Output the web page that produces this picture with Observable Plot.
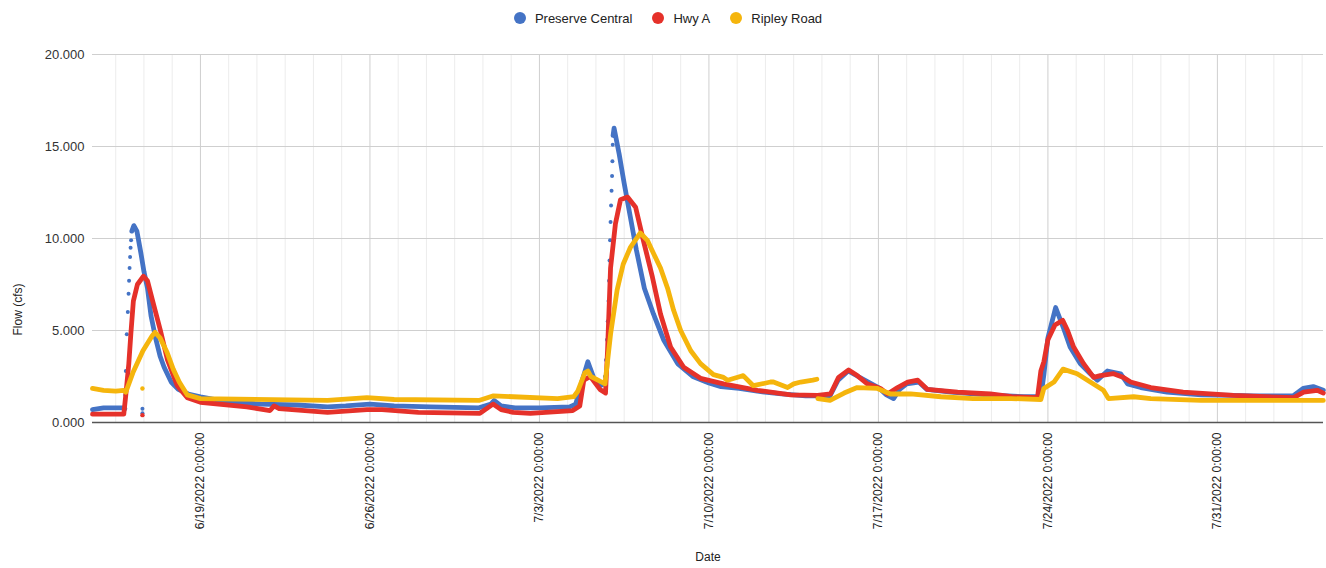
<!DOCTYPE html>
<html>
<head>
<meta charset="utf-8">
<script src="https://cdn.jsdelivr.net/npm/d3@7"></script>
<script src="https://cdn.jsdelivr.net/npm/@observablehq/plot@0.6"></script>
<style>
  body { margin: 0; background: #fff; font-family: "Liberation Sans", Arial, sans-serif; }
  #legend { height: 36px; display: flex; justify-content: center; align-items: center; font-size: 13px; color: #222; padding-left: 10px; box-sizing: border-box; }
  #legend .item { display: inline-flex; align-items: center; margin: 0 10px; }
  #legend .sw { width: 12px; height: 12px; border-radius: 50%; display: inline-block; margin-right: 9px; }
  #chart svg { display: block; }
</style>
</head>
<body>
<div id="legend"></div>
<div id="chart"></div>
<script>
// ---------- data (times are 2022 "MM-DD HH:MM", flow values as shown on the axis) ----------
const seriesNames = ["Preserve Central", "Hwy A", "Ripley Road"];
const seriesColors = ["#4473c5", "#e5312a", "#f5b50c"];

const preserveCentral = [
  ["06-14 13:00", 0.7], ["06-15 00:00", 0.8], ["06-15 19:00", 0.8], ["06-15 21:00", 0.75], ["06-15 21:30", null],
  ["06-16 04:00", 10.4], ["06-16 06:00", 10.7], ["06-16 09:00", 10.4], ["06-16 13:00", 9.2], ["06-16 16:00", 8.2],
  ["06-16 19:30", 7.3], ["06-16 23:00", 5.8], ["06-17 03:30", 4.6], ["06-17 08:00", 3.6], ["06-17 12:00", 3.0],
  ["06-17 19:00", 2.2], ["06-18 02:00", 1.8], ["06-18 12:00", 1.55], ["06-19 00:00", 1.4], ["06-20 00:00", 1.15],
  ["06-21 12:00", 1.0], ["06-23 00:00", 0.95], ["06-24 06:00", 0.85], ["06-25 00:00", 0.9], ["06-26 00:00", 1.0],
  ["06-27 00:00", 0.9], ["06-28 12:00", 0.85], ["06-30 12:00", 0.8], ["07-01 00:00", 1.0], ["07-01 03:00", 1.2],
  ["07-01 10:00", 0.9], ["07-02 00:00", 0.8], ["07-03 00:00", 0.8], ["07-04 06:00", 0.85], ["07-04 12:00", 1.0],
  ["07-04 18:00", 2.2], ["07-05 00:00", 3.3], ["07-05 06:00", 2.4], ["07-05 12:00", 2.0], ["07-05 16:00", 2.1],
  ["07-05 16:30", null],
  ["07-06 01:00", 15.6], ["07-06 02:00", 16.0], ["07-06 07:00", 14.6], ["07-06 12:00", 13.0], ["07-06 18:00", 11.2],
  ["07-07 00:00", 9.4], ["07-07 08:00", 7.3], ["07-07 17:00", 5.9], ["07-08 03:00", 4.5], ["07-08 17:00", 3.2],
  ["07-09 08:00", 2.5], ["07-10 00:00", 2.15], ["07-10 12:00", 1.95], ["07-11 06:00", 1.85], ["07-12 00:00", 1.7],
  ["07-13 00:00", 1.55], ["07-14 00:00", 1.45], ["07-15 00:00", 1.45], ["07-15 08:00", 2.3], ["07-15 18:00", 2.8],
  ["07-16 04:00", 2.5], ["07-16 14:00", 2.2], ["07-17 00:00", 1.9], ["07-17 08:00", 1.5], ["07-17 15:00", 1.3],
  ["07-17 21:00", 1.8], ["07-18 04:00", 2.1], ["07-18 16:00", 2.2], ["07-19 00:00", 1.8], ["07-20 00:00", 1.65],
  ["07-21 12:00", 1.5], ["07-23 00:00", 1.4], ["07-23 17:00", 1.4], ["07-23 20:00", 2.6], ["07-24 00:00", 4.6],
  ["07-24 07:40", 6.25], ["07-24 15:00", 5.2], ["07-24 22:00", 4.1], ["07-25 08:00", 3.2], ["07-25 18:00", 2.65],
  ["07-26 01:00", 2.3], ["07-26 11:00", 2.8], ["07-27 00:00", 2.65], ["07-27 07:00", 2.1], ["07-27 20:00", 1.9],
  ["07-28 22:00", 1.65], ["07-30 08:00", 1.5], ["07-31 16:00", 1.47], ["08-01 12:00", 1.45], ["08-02 12:00", 1.45],
  ["08-03 03:00", 1.45], ["08-03 13:00", 1.85], ["08-03 23:00", 1.95], ["08-04 09:00", 1.75]
];

const preserveCentralRiseDots = [
  ["06-15 21:30", 1.5], ["06-15 22:00", 2.8], ["06-15 23:00", 4.8], ["06-16 00:00", 6.0], ["06-16 00:45", 7.0],
  ["06-16 01:15", 7.7], ["06-16 01:45", 8.4], ["06-16 02:15", 9.0], ["06-16 02:45", 9.5], ["06-16 03:15", 9.9],
  ["06-16 14:30", 0.75], ["06-16 14:30", 0.5],
  ["07-05 17:00", 2.5], ["07-05 18:00", 3.4], ["07-05 19:00", 4.5], ["07-05 19:45", 5.5], ["07-05 20:30", 6.6],
  ["07-05 21:00", 7.7], ["07-05 21:30", 8.8], ["07-05 22:00", 9.9], ["07-05 22:30", 10.9], ["07-05 23:00", 11.8],
  ["07-05 23:30", 12.6], ["07-06 00:00", 13.4], ["07-06 00:20", 14.2], ["07-06 00:40", 15.1]
];

const hwyA = [
  ["06-14 13:00", 0.45], ["06-15 20:00", 0.45], ["06-15 22:00", 1.5], ["06-16 01:00", 3.2], ["06-16 03:00", 4.8],
  ["06-16 05:30", 6.6], ["06-16 09:30", 7.5], ["06-16 15:30", 7.95], ["06-16 19:30", 7.7], ["06-17 00:40", 6.6],
  ["06-17 08:20", 5.0], ["06-17 15:20", 3.4], ["06-18 01:00", 2.0], ["06-18 11:00", 1.35], ["06-19 00:00", 1.1],
  ["06-20 22:00", 0.85], ["06-21 21:00", 0.65], ["06-22 01:00", 0.9], ["06-22 06:00", 0.75], ["06-24 06:00", 0.55],
  ["06-25 21:00", 0.7], ["06-26 12:00", 0.7], ["06-28 00:00", 0.55], ["06-30 13:00", 0.5], ["07-01 02:00", 1.0],
  ["07-01 10:00", 0.7], ["07-01 22:00", 0.55], ["07-02 15:00", 0.5], ["07-04 09:00", 0.65], ["07-04 16:00", 0.9],
  ["07-04 20:00", 2.3], ["07-05 02:30", 2.5], ["07-05 12:00", 1.8], ["07-05 17:30", 1.6], ["07-05 19:30", 3.9],
  ["07-05 22:30", 8.4], ["07-06 03:20", 10.8], ["07-06 08:20", 12.1], ["07-06 15:20", 12.25], ["07-06 23:20", 11.7],
  ["07-07 07:00", 9.9], ["07-07 16:00", 7.9], ["07-08 00:00", 5.9], ["07-08 10:00", 4.1], ["07-08 23:00", 3.0],
  ["07-09 15:40", 2.4], ["07-10 14:30", 2.1], ["07-12 00:00", 1.75], ["07-13 09:00", 1.5], ["07-14 11:40", 1.47],
  ["07-15 00:30", 1.55], ["07-15 08:30", 2.45], ["07-15 18:30", 2.85], ["07-16 03:00", 2.55], ["07-16 13:00", 2.1],
  ["07-17 02:00", 1.85], ["07-17 09:00", 1.55], ["07-17 19:00", 1.9], ["07-18 05:00", 2.2], ["07-18 15:00", 2.3],
  ["07-19 00:40", 1.8], ["07-20 06:30", 1.65], ["07-21 15:00", 1.55], ["07-22 12:00", 1.4], ["07-23 13:40", 1.35],
  ["07-23 17:00", 2.8], ["07-23 20:00", 3.3], ["07-24 00:00", 4.5], ["07-24 07:00", 5.3], ["07-24 14:40", 5.55],
  ["07-24 19:30", 5.0], ["07-25 01:30", 4.1], ["07-25 11:20", 3.2], ["07-25 21:20", 2.45], ["07-26 04:00", 2.55],
  ["07-26 17:00", 2.65], ["07-27 03:00", 2.45], ["07-27 10:00", 2.2], ["07-28 06:00", 1.9], ["07-29 14:00", 1.65],
  ["07-31 16:00", 1.47], ["08-03 03:40", 1.35], ["08-03 13:30", 1.65], ["08-04 03:00", 1.75], ["08-04 09:00", 1.6]
];

const hwyAStrayDots = [["06-16 14:30", 0.4]];

const ripleyRoad = [
  ["06-14 13:00", 1.85], ["06-15 00:00", 1.75], ["06-15 12:00", 1.7], ["06-15 20:00", 1.75], ["06-15 22:00", 1.65],
  ["06-16 05:00", 2.7], ["06-16 15:00", 3.9], ["06-17 00:00", 4.7], ["06-17 03:00", 4.9], ["06-17 08:00", 4.6],
  ["06-17 15:00", 3.8], ["06-17 21:00", 2.9], ["06-18 03:00", 2.2], ["06-18 11:00", 1.5], ["06-19 00:00", 1.3],
  ["06-24 06:00", 1.2], ["06-25 21:00", 1.35], ["06-27 00:00", 1.25], ["06-30 12:00", 1.2], ["07-01 02:30", 1.45],
  ["07-01 22:00", 1.4], ["07-03 18:00", 1.3], ["07-04 10:00", 1.4], ["07-04 14:00", 1.7], ["07-04 21:00", 2.7],
  ["07-05 00:00", 2.8], ["07-05 03:00", 2.5], ["07-05 10:00", 2.3], ["07-05 17:00", 2.1], ["07-05 22:30", 4.8],
  ["07-06 05:00", 7.2], ["07-06 11:00", 8.6], ["07-06 18:00", 9.5], ["07-07 04:00", 10.3], ["07-07 11:00", 9.9],
  ["07-07 17:00", 9.2], ["07-08 00:00", 8.4], ["07-08 07:00", 7.3], ["07-08 13:00", 6.1], ["07-08 20:00", 5.0],
  ["07-09 06:00", 3.9], ["07-09 15:40", 3.2], ["07-10 04:30", 2.6], ["07-10 14:30", 2.45], ["07-10 18:30", 2.3],
  ["07-11 07:00", 2.5], ["07-11 10:00", 2.55], ["07-11 20:00", 2.0], ["07-12 13:00", 2.2], ["07-12 16:00", 2.2],
  ["07-13 06:00", 1.9], ["07-13 12:00", 2.1], ["07-13 19:00", 2.2], ["07-14 07:00", 2.3], ["07-14 11:00", 2.35],
  ["07-14 11:30", null],
  ["07-14 12:00", 1.3], ["07-15 00:00", 1.2], ["07-15 14:00", 1.6], ["07-16 03:00", 1.9], ["07-16 23:00", 1.85],
  ["07-17 12:00", 1.55], ["07-18 08:00", 1.55], ["07-19 14:00", 1.4], ["07-20 22:00", 1.3], ["07-22 12:00", 1.3],
  ["07-23 17:00", 1.25], ["07-23 20:00", 1.85], ["07-24 06:00", 2.2], ["07-24 15:00", 2.9], ["07-25 05:00", 2.65],
  ["07-25 18:00", 2.2], ["07-26 07:00", 1.75], ["07-26 12:00", 1.3], ["07-27 13:00", 1.4], ["07-28 06:00", 1.3],
  ["07-30 08:00", 1.2], ["08-04 09:00", 1.2]
];

const ripleyRoadStrayDots = [["06-16 14:30", 1.85]];

const xDomainText = ["06-14 13:00", "08-04 09:10"];
const xTickText = ["06-19 00:00", "06-26 00:00", "07-03 00:00", "07-10 00:00", "07-17 00:00", "07-24 00:00", "07-31 00:00"];
const yTicks = [0, 5, 10, 15, 20];
const yLabel = "Flow (cfs)";
const xLabel = "Date";

// ---------- build ----------
const parseTime = d3.timeParse("%Y-%m-%d %H:%M");
const t = s => parseTime("2022-" + s);
const rows = arr => arr.map(([d, v]) => ({date: t(d), value: v}));

const xDomain = xDomainText.map(t);
const xTicks = xTickText.map(t);
// minor gridlines: six divisions per weekly major interval
const weekMs = xTicks[1] - xTicks[0];
const minorTicks = [];
for (let k = -1; k < xTicks.length; k++) {
  const base = +xTicks[0] + k * weekMs;
  for (let i = 1; i < 6; i++) {
    const m = new Date(base + i * weekMs / 6);
    if (m > xDomain[0] && m < xDomain[1]) minorTicks.push(m);
  }
}
const tickFmt = d3.timeFormat("%-m/%-d/%Y %-H:%M:%S");

const [cBlue, cRed, cYellow] = seriesColors;
const lineOpts = {x: "date", y: "value", strokeWidth: 4.8, strokeLinejoin: "round", strokeLinecap: "round"};

const chart = Plot.plot({
  width: 1326,
  height: 532,
  marginTop: 18,
  marginBottom: 146,
  marginLeft: 92,
  marginRight: 3,
  x: {domain: xDomain},
  y: {domain: [0, 20]},
  style: {fontFamily: "'Liberation Sans', Arial, sans-serif", fontSize: "12px", color: "#333", background: "#fff"},
  marks: [
    Plot.gridX(minorTicks, {stroke: "#ececec", strokeOpacity: 1}),
    Plot.gridX(xTicks, {stroke: "#cfcfcf", strokeOpacity: 1}),
    Plot.gridY(yTicks.filter(d => d > 0), {stroke: "#cfcfcf", strokeOpacity: 1}),
    Plot.ruleY([0], {stroke: "#555", strokeWidth: 1.6}),
    Plot.axisY({ticks: yTicks, tickFormat: d3.format(".3f"), tickSize: 0, tickPadding: 8, fontSize: 13, label: null, fill: "#333"}),
    Plot.axisX({ticks: xTicks, tickFormat: tickFmt, tickSize: 0, tickPadding: 10, tickRotate: -90, fontSize: 12, label: null, fill: "#222"}),
    Plot.text([yLabel], {frameAnchor: "left", dx: -74, dy: 97, rotate: -90, fontSize: 12, fill: "#222"}),
    Plot.text([xLabel], {frameAnchor: "bottom", dy: 138, fontSize: 12, fill: "#222"}),
    Plot.line(rows(preserveCentral), {...lineOpts, stroke: cBlue}),
    Plot.dot(rows(preserveCentralRiseDots), {x: "date", y: "value", r: 2, fill: cBlue}),
    Plot.line(rows(hwyA), {...lineOpts, stroke: cRed}),
    Plot.dot(rows(hwyAStrayDots), {x: "date", y: "value", r: 2.2, fill: cRed}),
    Plot.line(rows(ripleyRoad), {...lineOpts, stroke: cYellow}),
    Plot.dot(rows(ripleyRoadStrayDots), {x: "date", y: "value", r: 2.2, fill: cYellow})
  ]
});
document.getElementById("chart").appendChild(chart);

// legend (HTML, above the SVG)
const legend = d3.select("#legend");
seriesNames.forEach((name, i) => {
  const item = legend.append("span").attr("class", "item");
  item.append("span").attr("class", "sw").style("background", seriesColors[i]);
  item.append("span").text(name);
});
</script>
</body>
</html>
